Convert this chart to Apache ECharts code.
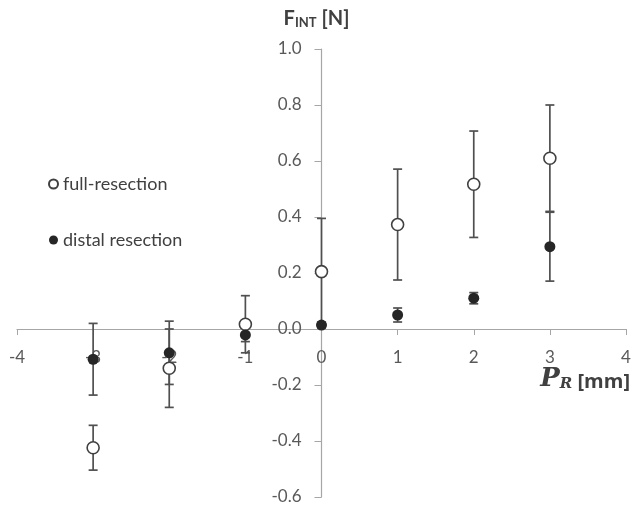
<!DOCTYPE html>
<html>
<head>
  <meta charset="utf-8">
  <script src="https://cdn.jsdelivr.net/npm/echarts@6/dist/echarts.min.js"></script>
</head>
<body style="margin:0">
  <div id="chart" style="width:633px;height:505px"></div>
  <script>
    // positions (mm) and forces (N)
    var xs = [-3, -2, -1, 0, 1, 2, 3];
    var fullMean = [-0.424, -0.140, 0.017, 0.205, 0.373, 0.517, 0.610];
    var fullErr = [0.080, 0.140, 0.102, 0.190, 0.198, 0.190, 0.190];
    var distalMean = [-0.108, -0.085, -0.021, 0.014, 0.050, 0.110, 0.294];
    var distalErr = [0.128, 0.113, 0.024, 0.010, 0.025, 0.020, 0.123];

    var axisColor = '#a6a6a6';
    var textColor = '#595959';
    var barColor = '#505050';
    var font = 'Lato';

    function points(mean) {
      var out = [];
      for (var i = 0; i < xs.length; i++) out.push([xs[i], mean[i]]);
      return out;
    }
    function bars(mean, err) {
      var out = [];
      for (var i = 0; i < xs.length; i++) out.push([xs[i], mean[i] - err[i], mean[i] + err[i]]);
      return out;
    }
    function renderBar(params, api) {
      var x = api.value(0);
      var top = api.coord([x, api.value(2)]);
      var bot = api.coord([x, api.value(1)]);
      var w = 4.5;
      var st = { stroke: barColor, lineWidth: 1.7 };
      return {
        type: 'group',
        children: [
          { type: 'line', shape: { x1: top[0], y1: top[1], x2: bot[0], y2: bot[1] }, style: st },
          { type: 'line', shape: { x1: top[0] - w, y1: top[1], x2: top[0] + w, y2: top[1] }, style: st },
          { type: 'line', shape: { x1: bot[0] - w, y1: bot[1], x2: bot[0] + w, y2: bot[1] }, style: st }
        ]
      };
    }

    var myChart = echarts.init(document.getElementById('chart'));
    var option = {
      animation: false,
      backgroundColor: '#fff',
      grid: { left: 17, right: 7, top: 49, bottom: 8, containLabel: false, outerBoundsMode: 'none' },
      legend: {
        data: ['full-resection', 'distal resection'],
        orient: 'vertical',
        left: 43,
        top: 170,
        itemGap: 38,
        itemWidth: 9,
        itemHeight: 9,
        textStyle: { fontFamily: font, fontSize: 18, color: '#404040' }
      },
      xAxis: {
        type: 'value',
        position: 'bottom',
        min: -4, max: 4, interval: 1,
        splitLine: { show: false },
        axisLine: { onZero: false, lineStyle: { color: axisColor, width: 1.2 } },
        axisTick: { length: 6, lineStyle: { color: axisColor } },
        axisLabel: { fontFamily: font, fontSize: 17, color: textColor, margin: 20 }
      },
      yAxis: {
        type: 'value',
        position: 'left',
        min: -0.6, max: 1.0, interval: 0.2,
        splitLine: { show: false },
        axisLine: { onZero: false, lineStyle: { color: axisColor, width: 1.2 } },
        axisTick: { length: 7, lineStyle: { color: axisColor } },
        axisLabel: {
          fontFamily: font, fontSize: 17, color: textColor, margin: 20,
          formatter: function (v) { return v.toFixed(1); }
        },
        name: '{b|F}{s|INT}{b| [N]}',
        nameGap: 20,
        nameTextStyle: {
          padding: [0, 10, 0, 0],
          rich: {
            b: { fontFamily: font, fontWeight: 'bold', fontSize: 20, color: '#404040', lineHeight: 24, verticalAlign: 'bottom' },
            s: { fontFamily: font, fontWeight: 'bold', fontSize: 13, color: '#404040', lineHeight: 16, verticalAlign: 'bottom' }
          }
        }
      },
      graphic: [{
        type: 'text',
        right: 3,
        top: 366,
        style: {
          text: '{p|P}{r|R}{m| [mm]}',
          rich: {
            p: { fontFamily: 'DejaVu Serif', fontStyle: 'italic', fontWeight: 'bold', fontSize: 26, fill: '#404040', lineHeight: 32, verticalAlign: 'bottom' },
            r: { fontFamily: 'DejaVu Serif', fontStyle: 'italic', fontWeight: 'bold', fontSize: 15, fill: '#404040', lineHeight: 20, verticalAlign: 'bottom' },
            m: { fontFamily: 'Open Sans', fontWeight: 'bold', fontSize: 20, fill: '#404040', lineHeight: 32, verticalAlign: 'bottom' }
          }
        }
      }],
      series: [
        {
          type: 'custom',
          name: 'full-err',
          renderItem: renderBar,
          data: bars(fullMean, fullErr),
          encode: { x: 0, y: [1, 2] },
          z: 1
        },
        {
          type: 'custom',
          name: 'distal-err',
          renderItem: renderBar,
          data: bars(distalMean, distalErr),
          encode: { x: 0, y: [1, 2] },
          z: 1
        },
        {
          type: 'scatter',
          name: 'full-resection',
          data: points(fullMean),
          symbol: 'circle',
          symbolSize: 12,
          itemStyle: { color: '#fff', borderColor: '#404040', borderWidth: 1.6, opacity: 1 },
          z: 3
        },
        {
          type: 'scatter',
          name: 'distal resection',
          data: points(distalMean),
          symbol: 'circle',
          symbolSize: 11,
          itemStyle: { color: '#262626', opacity: 1 },
          z: 4
        }
      ]
    };
    myChart.setOption(option);

    // move both axes (line + labels) so they cross at the origin, as in the figure
    var zeroX = myChart.convertToPixel({ xAxisIndex: 0 }, 0);
    var leftX = myChart.convertToPixel({ xAxisIndex: 0 }, -4);
    var zeroY = myChart.convertToPixel({ yAxisIndex: 0 }, 0);
    var bottomY = myChart.convertToPixel({ yAxisIndex: 0 }, -0.6);
    myChart.setOption({
      xAxis: { offset: -(bottomY - zeroY) },
      yAxis: { offset: -(zeroX - leftX) }
    });
  </script>
</body>
</html>
